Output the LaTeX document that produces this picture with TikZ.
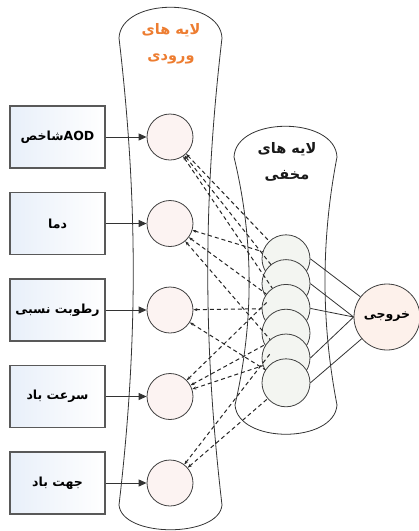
\documentclass[tikz,border=0pt]{standalone}
\usepackage{fontspec}
\newfontfamily\farsi[Script=Arabic,BoldFont={DejaVu Sans Bold}]{DejaVu Sans}
\TeXXeTstate=1
\usetikzlibrary{arrows.meta}
\definecolor{titleorange}{RGB}{237,125,49}
\definecolor{boxblue}{RGB}{232,239,249}
\definecolor{inpink}{RGB}{252,243,242}
\definecolor{hidgray}{RGB}{243,245,241}
\definecolor{outpeach}{RGB}{253,241,235}
\tikzset{
  layer/.style={draw=black!80,line width=.8pt},
  inbox/.style={draw=black!65,line width=1.2pt,left color=boxblue,right color=white,minimum width=95pt,minimum height=62pt,font=\farsi\bfseries\fontsize{12.5}{14}\selectfont},
  incirc/.style={circle,draw=black!75,line width=.8pt,fill=inpink,minimum size=46pt,inner sep=0pt},
  hidcirc/.style={circle,draw=black!75,line width=.8pt,fill=hidgray,minimum size=48pt,inner sep=0pt},
  outcirc/.style={circle,draw=black!75,line width=.8pt,fill=outpeach,minimum size=66pt,inner sep=0pt,font=\farsi\bfseries\fontsize{12.5}{14}\selectfont},
  wire/.style={black!85,line width=1pt,dash pattern=on 4pt off 3pt},
  title/.style={align=center,font=\farsi\bfseries\fontsize{14.5}{26}\selectfont}
}
\begin{document}
\begin{tikzpicture}[x=1pt,y=-1pt,>={Triangle[length=8pt,width=7pt]}]
  \useasboundingbox (0,0) rectangle (419,531);
  % the two layers
  \draw[layer] (119,38) .. controls (121,-3) and (220,-3) .. (222,38) .. controls (203,200) and (203,343) .. (222,505)
     .. controls (219,538) and (122,538) .. (119,505) .. controls (138,343) and (138,200) .. cycle;
  \draw[layer] (234,157) .. controls (236,116) and (335,116) .. (337,157) .. controls (321,240) and (321,322) .. (337,405)
     .. controls (334,444) and (238,444) .. (235,405) .. controls (254,322) and (254,240) .. cycle;
  \node[title,text=titleorange] (tin) at (171,44) {\beginR لایه های\endR\\\beginR ورودی\endR};
  \node[title,text=black!90] (thid) at (287,162) {\beginR لایه های\endR\\\beginR مخفی\endR};
  % inputs
  \foreach \t [count=\i] in {\beginR شاخص\endR AOD,\beginR دما\endR,\beginR رطوبت نسبی\endR,\beginR سرعت باد\endR,\beginR جهت باد\endR}{
    \node[inbox] (b\i) at (57.5,{50.5+86.5*\i}) {\t};
    \node[incirc] (i\i) at (170,{50.5+86.5*\i}) {};
    \draw[->,black!80,line width=1pt] (b\i) -- (i\i);
  }
  % hidden and output
  \foreach \j in {1,...,6}
    \node[hidcirc] (h\j) at (286,{234+24.8*\j}) {};
  \node[outcirc] (out) at (387,317) {\beginR خروجی\endR};
  \foreach \a/\b in {1/1,1/2,1/3,2/1,2/3,2/5,3/3,3/6,4/2,4/4,4/5,5/4,5/6}
    \draw[wire,{Stealth[length=4pt,width=3pt]}-] (i\a) -- (h\b);
  \draw[black!80,line width=.8pt] (h1.east) -- (out) (h2.east) -- (out.west) (h3.east) -- (out.west)
     (h5.east) -- (out.west) (h6.east) -- (out);
\end{tikzpicture}
\end{document}
